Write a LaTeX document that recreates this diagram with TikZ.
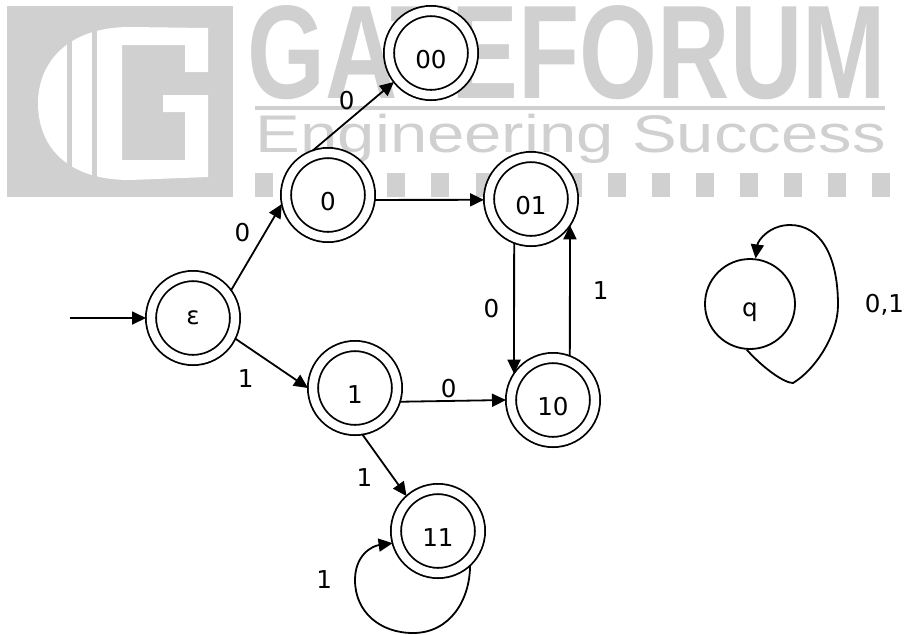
\documentclass[tikz,border=0pt]{standalone}
\usepackage{graphicx}
\usepackage{fontspec}
\setmainfont{DejaVu Sans}
\newfontfamily\wmfont{Liberation Sans}
\usetikzlibrary{arrows.meta}
\definecolor{wmgray}{RGB}{208,208,208}
\tikzset{
  state/.style={circle, draw, fill=white, minimum size=45pt, inner sep=0pt, text height=15pt, text depth=0pt, font=\fontsize{12.3}{14}\selectfont},
  final/.style={state, double, double distance=4.2pt, minimum size=42pt, outer sep=2.5pt},
  lbl/.style={font=\fontsize{12.3}{14}\selectfont, inner sep=1pt},
  trans/.style={-{Triangle[length=7pt,width=6.5pt]}}
}

\begin{document}
\begin{tikzpicture}[x=0.5pt, y=-0.5pt, line width=0.9pt]
    \useasboundingbox (0,0) rectangle (907,634);
    % watermark
    \fill[wmgray] (7,6) rectangle (233,197);
    \fill[white] (208,28) -- (130,27) .. controls (65,27) and (38,65) .. (38,103)
      .. controls (38,145) and (65,180) .. (130,180) -- (208,177) -- (208,95) -- (163,95)
      -- (163,112) -- (185,112) -- (185,160) -- (122,160) -- (122,45) -- (185,45)
      -- (185,72) -- (208,72) -- cycle;
    \fill[wmgray] (67,20) rectangle (72,190);
    \fill[wmgray] (92,20) rectangle (97,190);
    \node[anchor=north west, inner sep=0pt, text=wmgray] (wmtitle) at (247,5) {\resizebox{319pt}{46.5pt}{\wmfont\bfseries GATEFORUM}};
    \fill[wmgray] (255,106) rectangle (885,110);
    \node[anchor=base west, inner sep=0pt, text=wmgray] (wmsub) at (255,152) {\wmfont\fontsize{26.5}{30}\selectfont\scalebox{1.265}[1]{Engineering Success}};
    \foreach \k in {0,...,14}
      \fill[wmgray] ({255+44.1*\k},173) rectangle +(18,24);
    % states
    \node[final, text height=, text depth=] (eps) at (193,318) {ε};
    \node[final] (n0) at (328,195) {0};
    \node[final] (n00) at (431,53) {00};
    \node[final] (n01) at (531,199) {01};
    \node[final] (n1) at (355,388) {1};
    \node[final] (n10) at (553,400) {10};
    \node[final] (n11) at (438,531) {11};
    \node[state, text height=12pt] (q) at (750,304) {q};
    \coordinate (start) at (70,318);
    % transitions
    \draw[trans] (start) -- (eps);
    \draw[trans] (eps.36) -- node[lbl, pos=0.67, left=6pt] {0} (n0.191);
    \draw[trans] (eps.334) -- node[lbl, pos=0.4, below left=4pt] {1} (n1.180);
    \draw[trans] (n0.109) -- node[lbl, pos=0.55, above left] {0} (n00.218);
    \draw[trans] (n0.354) -- (n01.181);
    \draw[trans] (n01.249) -- node[lbl, left=6pt] {0} (n10.146);
    \draw[trans] (n10.69) -- node[lbl, right=10pt] {1} (n01.326);
    \draw[trans] (n1.343) -- node[lbl, pos=0.46, above] {0} (n10.180);
    \draw[trans] (n1.279) -- node[lbl, pos=0.7, left=9pt] {1} (n11.132);
    \draw[trans] (n11.313) .. controls (470,600) and (450,633) .. (413,633)
      .. controls (380,633) and (355,612) .. (355,580) node[lbl, left=10pt] {1}
      .. controls (355,555) and (372,546) .. (n11.195);
    \draw[trans] (q.266) .. controls (765,370) and (785,383) .. (793,383)
      .. controls (815,370) and (838,335) .. (838,305) node[lbl, right=12pt] {0,1}
      .. controls (838,255) and (820,225) .. (790,225)
      .. controls (770,225) and (758,240) .. (q.83);
\end{tikzpicture}
\end{document}
